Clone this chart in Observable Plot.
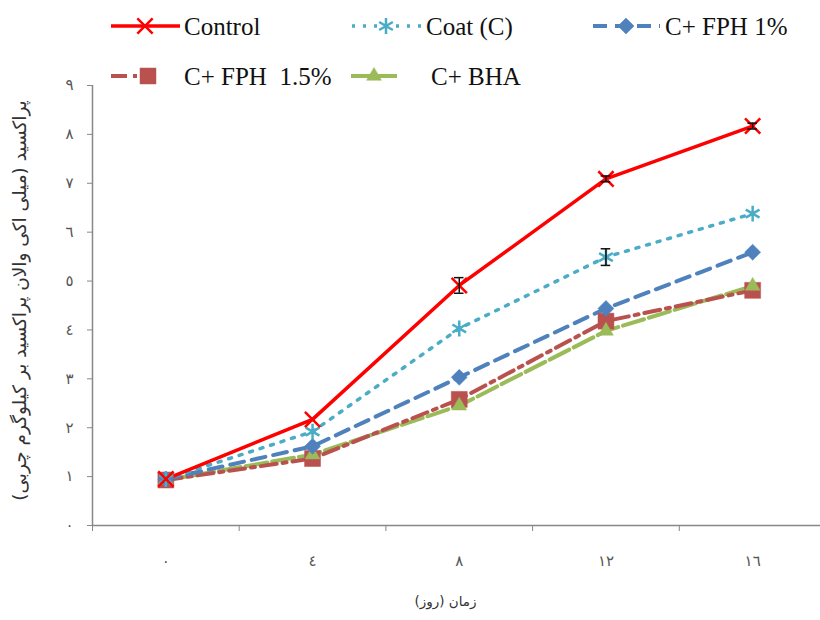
<!DOCTYPE html>
<html>
<head>
<meta charset="utf-8">
<script src="https://cdn.jsdelivr.net/npm/d3@7"></script>
<script src="https://cdn.jsdelivr.net/npm/@observablehq/plot@0.6"></script>
<style>
  body { margin: 0; background: #fff; }
  #wrap { position: relative; width: 820px; height: 620px; overflow: hidden; }
  #legend { position: absolute; left: 0; top: 0; pointer-events: none; }
</style>
</head>
<body>
<div id="wrap"></div>
<script>
// ---- data ----
const days = [0, 4, 8, 12, 16];
const seriesNames = ["Control", "Coat (C)", "C+ FPH 1%", "C+ FPH  1.5%", "C+ BHA"];
const control = [0.95, 2.17, 4.91, 7.09, 8.17];
const coat    = [0.95, 1.92, 4.03, 5.49, 6.38];
const fph1    = [0.95, 1.62, 3.03, 4.44, 5.59];
const fph15   = [0.93, 1.37, 2.58, 4.18, 4.81];
const bha     = [0.93, 1.45, 2.45, 3.98, 4.90];
const controlErr = [0, 0, 0.16, 0.06, 0.06];
const coatErr    = [0, 0, 0, 0.17, 0];
const yTicks = [0, 1, 2, 3, 4, 5, 6, 7, 8, 9];
const xTitle = "زمان (روز)";
const yTitle = "پراکسید (میلی اکی والان پراکسید بر کیلوگرم چربی)";

// ---- styles ----
const styles = {
  "Control":      {color: "#ff0000", dash: null,         width: 3.5, symbol: "times",    r: 7,   filled: false},
  "Coat (C)":     {color: "#4bacc6", dash: "3,8",        width: 3.5, symbol: "asterisk", r: 7.5, filled: false},
  "C+ FPH 1%":    {color: "#4f81bd", dash: "14,8",       width: 4,   symbol: "diamond2", r: 7.2, filled: true},
  "C+ FPH  1.5%": {color: "#b9524f", dash: "16,6,4,6",   width: 4,   symbol: "square",   r: 9,   filled: true},
  "C+ BHA":       {color: "#9bbb59", dash: "22,5",       width: 4,   symbol: "triangle", r: 5.5, filled: true}
};

const valuesBySeries = [control, coat, fph1, fph15, bha];
const errBySeries = [controlErr, coatErr, null, null, null];
const rows = [];
seriesNames.forEach((s, i) => days.forEach((d, j) => rows.push({
  series: s, day: d, value: valuesBySeries[i][j], err: errBySeries[i] ? errBySeries[i][j] : 0
})));

const digits = "٠١٢٣٤٥٦٧٨٩";
const ar = v => String(v).replace(/\d/g, c => digits[+c]);
const RLM = "\u200F";

const lineOrder = ["C+ BHA", "C+ FPH  1.5%", "C+ FPH 1%", "Coat (C)", "Control"];
const dotOrder = ["C+ FPH  1.5%", "C+ BHA", "C+ FPH 1%", "Coat (C)", "Control"];

const lineMarks = lineOrder.map(s => Plot.line(rows.filter(r => r.series === s), {
  x: "day", y: "value", stroke: styles[s].color, strokeWidth: styles[s].width,
  strokeDasharray: styles[s].dash, strokeLinejoin: "round"
}));
const dotMarks = dotOrder.map(s => Plot.dot(rows.filter(r => r.series === s), {
  x: "day", y: "value", symbol: () => styles[s].symbol, r: styles[s].r,
  fill: styles[s].filled ? styles[s].color : "none",
  stroke: styles[s].color, strokeWidth: styles[s].filled ? 0.5 : 2.5
}));
const errRows = rows.filter(r => r.err > 0);

const plot = Plot.plot({
  width: 820, height: 620,
  marginLeft: 92, marginRight: 0, marginTop: 85, marginBottom: 95,
  x: {domain: [-2, 17.85]},
  y: {domain: [0, 9]},
  style: {fontFamily: "DejaVu Sans", color: "#555", background: "#fff"},
  marks: [
    Plot.axisY({ticks: yTicks, tickFormat: ar, tickSize: 5, tickPadding: 14, fontSize: 15, label: null, stroke: "#888"}),
    Plot.axisX({ticks: [-2, 2, 6, 10, 14], tickFormat: () => "", tickSize: 6, label: null, stroke: "#888"}),
    Plot.axisX({ticks: days, tickFormat: ar, tickSize: 0, tickPadding: 30, fontSize: 15, label: null}),
    Plot.ruleY([0], {stroke: "#888", strokeWidth: 1.5}),
    Plot.ruleX([-2], {y1: 0, y2: 9, stroke: "#888", strokeWidth: 1.5}),
    ...lineMarks,
    ...dotMarks,
    Plot.ruleX(errRows, {x: "day", y1: d => d.value - d.err, y2: d => d.value + d.err, stroke: "#111", strokeWidth: 1.5}),
    Plot.ruleY(errRows, {y: d => d.value + d.err, x1: d => d.day - 0.13, x2: d => d.day + 0.13, stroke: "#111", strokeWidth: 1.5}),
    Plot.ruleY(errRows, {y: d => d.value - d.err, x1: d => d.day - 0.13, x2: d => d.day + 0.13, stroke: "#111", strokeWidth: 1.5}),
    Plot.text([RLM + yTitle + RLM], {frameAnchor: "left", dx: -72, dy: -5, rotate: -90, fontSize: 18.5, fill: "#333", className: "ar-title"}),
    Plot.text([RLM + xTitle + RLM], {frameAnchor: "bottom", dx: -11, dy: 80, fontSize: 13.5, fill: "#333", className: "ar-title"})
  ]
});
document.getElementById("wrap").appendChild(plot);
// Center the Arabic titles on their anchors (bidi text anchoring is unreliable)
d3.select(plot).selectAll(".ar-title text").each(function() {
  this.setAttribute("text-anchor", "start");
  this.removeAttribute("x");
  const bb = this.getBBox();
  this.setAttribute("x", -(bb.x + bb.width / 2));
});

// ---- legend (overlay at top) ----
const legendLayout = [
  {s: "Control",      x1: 111, x2: 180, mx: 145, tx: 184, y: 26},
  {s: "Coat (C)",     x1: 352, x2: 421, mx: 386, tx: 426, y: 26},
  {s: "C+ FPH 1%",    x1: 593, x2: 660, mx: 626, tx: 665, y: 26},
  {s: "C+ FPH  1.5%", x1: 111, x2: 146, mx: 148, tx: 184, y: 76},
  {s: "C+ BHA",       x1: 351, x2: 397, mx: 374, tx: 431, y: 76}
];
const symMap = {times: d3.symbolTimes, asterisk: d3.symbolAsterisk, diamond2: d3.symbolDiamond2, square: d3.symbolSquare, triangle: d3.symbolTriangle};
const lg = d3.select("#wrap").append("svg").attr("id", "legend").attr("width", 820).attr("height", 100);
legendLayout.forEach(it => {
  const st = styles[it.s];
  lg.append("line").attr("x1", it.x1).attr("x2", it.x2).attr("y1", it.y).attr("y2", it.y)
    .attr("stroke", st.color).attr("stroke-width", st.width).attr("stroke-dasharray", st.dash || null);
  lg.append("path").attr("transform", `translate(${it.mx},${it.y})`)
    .attr("d", d3.symbol(symMap[st.symbol], Math.PI * st.r * st.r)())
    .attr("fill", st.filled ? st.color : "none").attr("stroke", st.color)
    .attr("stroke-width", st.filled ? 0.5 : 2.5);
  lg.append("text").attr("x", it.tx).attr("y", it.y).attr("dy", "0.35em")
    .attr("font-family", "Liberation Serif").attr("font-size", 25).attr("fill", "#111")
    .attr("xml:space", "preserve").style("white-space", "pre").text(it.s);
});
</script>
</body>
</html>
